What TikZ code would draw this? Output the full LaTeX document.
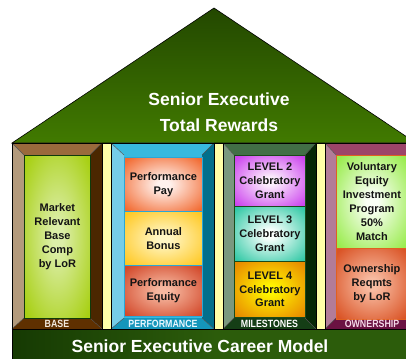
\documentclass[tikz,border=0pt]{standalone}
\usepackage{fontspec}
\setmainfont{Liberation Sans}

% palette
\definecolor{rooftop}{HTML}{234800}
\definecolor{roofbot}{HTML}{417A00}
\definecolor{gapyellow}{HTML}{FFFFA8}
\definecolor{banddark}{HTML}{163A03}
\definecolor{bandmid}{HTML}{2C5C0B}
% base pillar
\definecolor{baseT}{HTML}{9A6A3C}\definecolor{baseL}{HTML}{B39A7C}
\definecolor{baseR}{HTML}{4B2700}\definecolor{baseB}{HTML}{5F3000}
% performance pillar
\definecolor{perfT}{HTML}{38B9DE}\definecolor{perfL}{HTML}{75CDE9}
\definecolor{perfR}{HTML}{026F8C}\definecolor{perfB}{HTML}{1596BB}
% milestones pillar
\definecolor{mileT}{HTML}{426F46}\definecolor{mileL}{HTML}{7A987F}
\definecolor{mileR}{HTML}{062806}\definecolor{mileB}{HTML}{153E16}
% ownership pillar
\definecolor{ownT}{HTML}{9C4569}\definecolor{ownL}{HTML}{B27C98}
\definecolor{ownR}{HTML}{5A1535}\definecolor{ownB}{HTML}{6B1242}
% panel borders
\definecolor{baseedge}{HTML}{0F3A0A}
\definecolor{perfedge}{HTML}{2AA6D6}
\definecolor{mileedge}{HTML}{1A4A1A}
\definecolor{ownedge}{HTML}{E06020}
% panel fills (centre / rim)
\definecolor{greenC}{HTML}{DCEEA8}\definecolor{greenR}{HTML}{A8D014}
\definecolor{payC}{HTML}{FFF2EE}\definecolor{payR}{HTML}{F26B32}
\definecolor{bonusC}{HTML}{FFF6C4}\definecolor{bonusR}{HTML}{FFC823}
\definecolor{equityC}{HTML}{F6B8A0}\definecolor{equityR}{HTML}{D2482A}
\definecolor{lvtwoC}{HTML}{FCEEFC}\definecolor{lvtwoR}{HTML}{CC44EE}
\definecolor{lvthreeC}{HTML}{FAFFFC}\definecolor{lvthreeR}{HTML}{33C9A6}
\definecolor{lvfourC}{HTML}{FFF400}\definecolor{lvfourR}{HTML}{E88A00}
\definecolor{volC}{HTML}{FAFFF6}\definecolor{volR}{HTML}{9AEC4E}
\definecolor{reqC}{HTML}{F8BCA2}\definecolor{reqR}{HTML}{DA5426}
% label texts
\definecolor{baseText}{HTML}{F2EAE0}
\definecolor{perfText}{HTML}{EAF8FF}
\definecolor{ownText}{HTML}{F4D8E8}

% soft glow: light centre fading to the rim colour towards the edges
\colorlet{glowin}{white}\colorlet{glowout}{black}
\pgfdeclareradialshading[glowin,glowout]{glow}{\pgfpoint{0bp}{0bp}}{%
  color(0bp)=(glowin); color(4bp)=(glowin); color(33bp)=(glowout); color(80bp)=(glowout)}

% one beveled pillar frame: outer x1,x2 / inner x1,x2 / four bevel colours
\newcommand\drawpillar[8]{%
  \fill[#5] (#1,143) -- (#2,143) -- (#4,155) -- (#3,155) -- cycle;
  \fill[#6] (#1,143) -- (#3,155) -- (#3,318) -- (#1,329) -- cycle;
  \fill[#7] (#2,143) -- (#4,155) -- (#4,318) -- (#2,329) -- cycle;
  \fill[#8] (#3,318) -- (#4,318) -- (#2,329) -- (#1,329) -- cycle;
  \fill[#5] (#3,155) rectangle (#4,318);
  \draw[bevelline] (#1,143) -- (#3,155) (#2,143) -- (#4,155)
                   (#1,329) -- (#3,318) (#2,329) -- (#4,318);
  \draw[frameline] (#1,143) rectangle (#2,329);
}

\tikzset{
  x=1pt, y=-1pt,
  frameline/.style={draw=black, line width=0.7pt},
  bevelline/.style={draw=black!70, line width=0.4pt},
  glowfill/.style 2 args={/utils/exec={\colorlet{glowin}{#1}\colorlet{glowout}{#2}},
    shading=glow},
  panel/.style={anchor=north west, inner sep=0pt, align=center,
    line width=0.8pt, text=black!92,
    font=\fontsize{11}{13.8}\selectfont\bfseries},
  tallpanel/.style={panel, font=\fontsize{11}{14}\selectfont\bfseries},
  pillarlabel/.style={inner sep=0pt, xscale=0.84,
    font=\fontsize{10.5}{10.5}\selectfont\bfseries},
  bigtitle/.style={text=white, align=center,
    font=\fontsize{17.5}{26.5}\selectfont\bfseries},
}

\begin{document}
\begin{tikzpicture}
\useasboundingbox (0,0) rectangle (406,358);
\begin{scope}
\clip (0,0) rectangle (406,358);

% roof
\path[top color=rooftop, bottom color=roofbot, draw=black, line width=0.6pt]
  (12,143) -- (214,8) -- (416,143) -- cycle;
\node[bigtitle] (rooftitle) at (219,112) {Senior Executive\\Total Rewards};

% yellow gaps between pillars
\foreach \a/\b in {102/111, 214/223, 316/325}
  \path[fill=gapyellow, frameline] (\a,143) rectangle (\b,329);

% pillar frames
\drawpillar{12}{102}{24}{90}{baseT}{baseL}{baseR}{baseB}
\drawpillar{111}{214}{124}{202}{perfT}{perfL}{perfR}{perfB}
\drawpillar{223}{316}{234}{305}{mileT}{mileL}{mileR}{mileB}
\drawpillar{325}{418}{336}{407}{ownT}{ownL}{ownR}{ownB}

% base
\node[tallpanel, draw=baseedge, glowfill={greenC}{greenR},
  minimum width=66pt, minimum height=163pt]
  (basecomp) at (24,155) {Market\\Relevant\\Base\\Comp\\by LoR};

% performance
\node[panel, draw=perfedge, glowfill={payC}{payR},
  minimum width=78pt, minimum height=54pt] (perfpay) at (124,157) {Performance\\Pay};
\node[panel, draw=perfedge, glowfill={bonusC}{bonusR},
  minimum width=78pt, minimum height=54pt] (bonus) at (124,211) {Annual\\Bonus};
\node[panel, draw=perfedge, glowfill={equityC}{equityR},
  minimum width=78pt, minimum height=51pt] (perfequity) at (124,265) {Performance\\Equity};

% milestones
\node[panel, draw=mileedge, glowfill={lvtwoC}{lvtwoR},
  minimum width=71pt, minimum height=51pt] (level2) at (234,155) {LEVEL 2\\Celebratory\\Grant};
\node[panel, draw=mileedge, glowfill={lvthreeC}{lvthreeR},
  minimum width=71pt, minimum height=55pt] (level3) at (234,206) {LEVEL 3\\Celebratory\\Grant};
\node[panel, draw=mileedge, glowfill={lvfourC}{lvfourR},
  minimum width=71pt, minimum height=56pt] (level4) at (234,261) {LEVEL 4\\Celebratory\\Grant};

% ownership
\node[tallpanel, draw=ownedge, glowfill={volC}{volR},
  minimum width=71pt, minimum height=93pt]
  (voluntary) at (336,155) {Voluntary\\Equity\\Investment\\Program\\50\%\\Match};
\node[tallpanel, draw=ownedge, glowfill={reqC}{reqR},
  minimum width=71pt, minimum height=71pt]
  (ownreq) at (336,248) {Ownership\\Reqmts\\by LoR};

% pillar labels
\node[pillarlabel, text=baseText] (lbase) at (57,324) {BASE};
\node[pillarlabel, text=perfText] (lperf) at (163,324) {PERFORMANCE};
\node[pillarlabel, text=white] (lmile) at (269.5,324) {MILESTONES};
\node[pillarlabel, text=ownText] (lown) at (372,324) {OWNERSHIP};

% foundation band
\path[left color=banddark, right color=bandmid, middle color=bandmid, frameline]
  (12,329) rectangle (420,362);
\node[bigtitle] (foundation) at (200,346.5) {Senior Executive Career Model};
\end{scope}
\end{tikzpicture}
\end{document}
